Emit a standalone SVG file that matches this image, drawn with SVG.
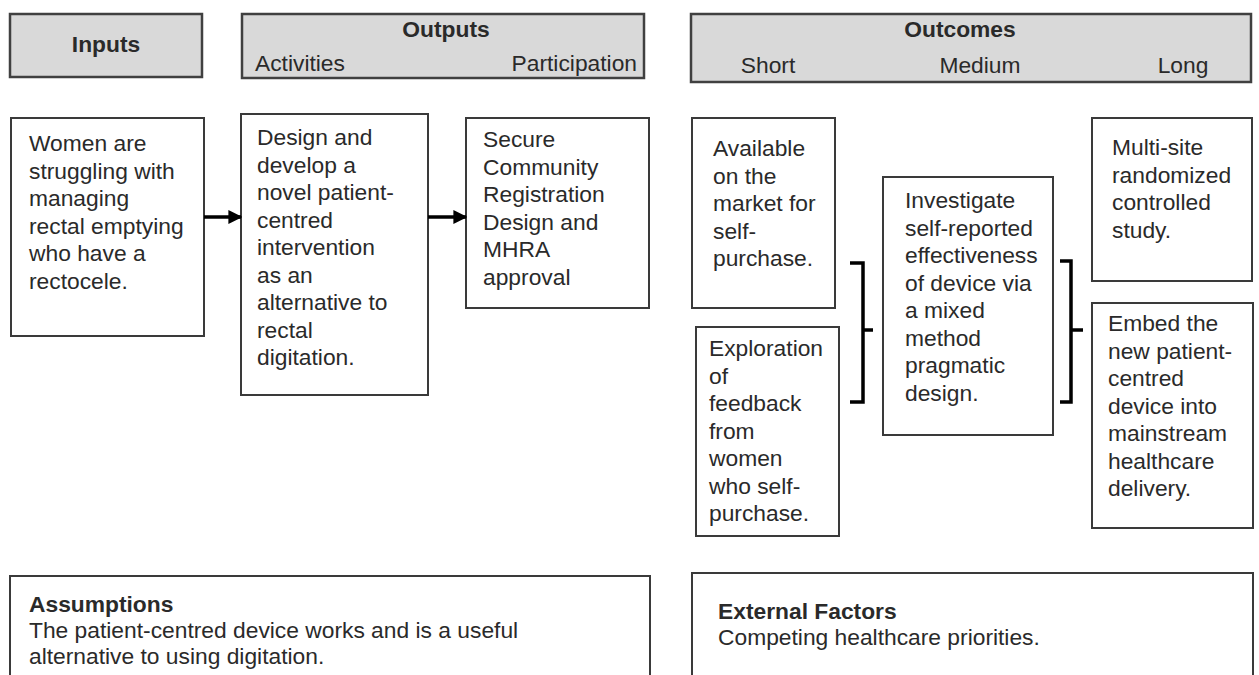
<svg xmlns="http://www.w3.org/2000/svg" width="1259" height="675" viewBox="0 0 1259 675">
<style>
text{font-family:"Liberation Sans",Arial,sans-serif;fill:#2a2a2a;font-size:22.8px}
.b{font-weight:bold}
.hd{fill:#d9d9d9;stroke:#404040;stroke-width:2.5}
.bx{fill:#fff;stroke:#3a3a3a;stroke-width:2}
.c{stroke:#000;stroke-width:3.5;fill:none}
.m{text-anchor:middle}
.e{text-anchor:end}
</style>
<defs>
<marker id="ah" viewBox="0 0 10 10" refX="9" refY="5" markerWidth="4" markerHeight="4" orient="auto" markerUnits="strokeWidth">
<path d="M0,0 L10,5 L0,10 z" fill="#000"/>
</marker>
</defs>
<rect width="1259" height="675" fill="#fff"/>
<g id="hdr-inputs">
<rect class="hd" x="10" y="14" width="192" height="63"/>
<text class="b m" x="106" y="52">Inputs</text>
</g>
<g id="hdr-outputs">
<rect class="hd" x="242" y="14" width="402" height="64"/>
<text class="b m" x="446" y="37">Outputs</text>
<text x="255" y="71">Activities</text>
<text class="e" x="637" y="71">Participation</text>
</g>
<g id="hdr-outcomes">
<rect class="hd" x="691" y="14" width="560" height="68"/>
<text class="b m" x="960" y="37">Outcomes</text>
<text class="m" x="768" y="73">Short</text>
<text class="m" x="980" y="73">Medium</text>
<text class="m" x="1183" y="73">Long</text>
</g>
<g id="n-women">
<rect class="bx" x="11" y="118" width="193" height="218"/>
<text x="29" y="151">Women are<tspan x="29" dy="27.6">struggling with</tspan><tspan x="29" dy="27.6">managing</tspan><tspan x="29" dy="27.6">rectal emptying</tspan><tspan x="29" dy="27.6">who have a</tspan><tspan x="29" dy="27.6">rectocele.</tspan></text>
</g>
<g id="n-design">
<rect class="bx" x="241" y="114" width="187" height="281"/>
<text x="257" y="145">Design and<tspan x="257" dy="27.5">develop a</tspan><tspan x="257" dy="27.5">novel patient-</tspan><tspan x="257" dy="27.5">centred</tspan><tspan x="257" dy="27.5">intervention</tspan><tspan x="257" dy="27.5">as an</tspan><tspan x="257" dy="27.5">alternative to</tspan><tspan x="257" dy="27.5">rectal</tspan><tspan x="257" dy="27.5">digitation.</tspan></text>
</g>
<g id="n-secure">
<rect class="bx" x="466" y="118" width="183" height="190"/>
<text x="483" y="147">Secure<tspan x="483" dy="27.5">Community</tspan><tspan x="483" dy="27.5">Registration</tspan><tspan x="483" dy="27.5">Design and</tspan><tspan x="483" dy="27.5">MHRA</tspan><tspan x="483" dy="27.5">approval</tspan></text>
</g>
<g id="n-available">
<rect class="bx" x="692" y="118" width="143" height="190"/>
<text x="713" y="156">Available<tspan x="713" dy="27.5">on the</tspan><tspan x="713" dy="27.5">market for</tspan><tspan x="713" dy="27.5">self-</tspan><tspan x="713" dy="27.5">purchase.</tspan></text>
</g>
<g id="n-exploration">
<rect class="bx" x="696" y="327" width="143" height="209"/>
<text x="709" y="356">Exploration<tspan x="709" dy="27.5">of</tspan><tspan x="709" dy="27.5">feedback</tspan><tspan x="709" dy="27.5">from</tspan><tspan x="709" dy="27.5">women</tspan><tspan x="709" dy="27.5">who self-</tspan><tspan x="709" dy="27.5">purchase.</tspan></text>
</g>
<g id="n-investigate">
<rect class="bx" x="883" y="177" width="170" height="258"/>
<text x="905" y="208">Investigate<tspan x="905" dy="27.5">self-reported</tspan><tspan x="905" dy="27.5">effectiveness</tspan><tspan x="905" dy="27.5">of device via</tspan><tspan x="905" dy="27.5">a mixed</tspan><tspan x="905" dy="27.5">method</tspan><tspan x="905" dy="27.5">pragmatic</tspan><tspan x="905" dy="27.5">design.</tspan></text>
</g>
<g id="n-multisite">
<rect class="bx" x="1092" y="118" width="160" height="163"/>
<text x="1112" y="155">Multi-site<tspan x="1112" dy="27.5">randomized</tspan><tspan x="1112" dy="27.5">controlled</tspan><tspan x="1112" dy="27.5">study.</tspan></text>
</g>
<g id="n-embed">
<rect class="bx" x="1092" y="303" width="161" height="225"/>
<text x="1108" y="331">Embed the<tspan x="1108" dy="27.5">new patient-</tspan><tspan x="1108" dy="27.5">centred</tspan><tspan x="1108" dy="27.5">device into</tspan><tspan x="1108" dy="27.5">mainstream</tspan><tspan x="1108" dy="27.5">healthcare</tspan><tspan x="1108" dy="27.5">delivery.</tspan></text>
</g>
<g id="connectors">
<line class="c" x1="204" y1="217" x2="241" y2="217" marker-end="url(#ah)"/>
<line class="c" x1="428" y1="217" x2="466" y2="217" marker-end="url(#ah)"/>
<path class="c" d="M850,263 H863 V402 H850 M863,330 H873"/>
<path class="c" d="M1060,261 H1071 V402 H1060 M1071,330 H1083"/>
</g>
<g id="n-assumptions">
<rect class="bx" x="10" y="576" width="640" height="110"/>
<text class="b" x="29" y="612">Assumptions</text>
<text x="29" y="638">The patient-centred device works and is a useful</text>
<text x="29" y="664">alternative to using digitation.</text>
</g>
<g id="n-external">
<rect class="bx" x="692" y="573" width="561" height="113"/>
<text class="b" x="718" y="619">External Factors</text>
<text x="718" y="645">Competing healthcare priorities.</text>
</g>
</svg>
